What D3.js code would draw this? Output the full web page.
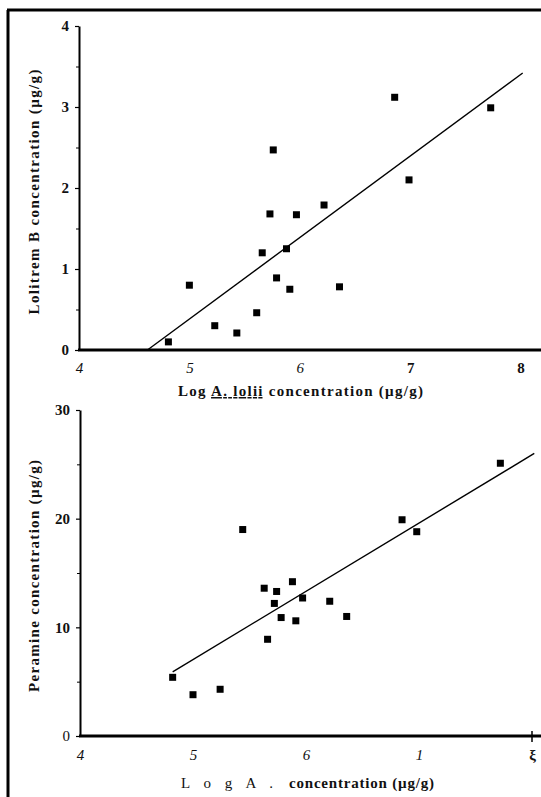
<!DOCTYPE html>
<html>
<head>
<meta charset="utf-8">
<script src="https://cdn.jsdelivr.net/npm/d3@7"></script>
<style>
  body { margin: 0; background: #fff; }
  svg { display: block; }
  text { font-family: "Liberation Serif", "Times New Roman", serif; fill: #111; }
</style>
</head>
<body>
<svg width="541" height="797"></svg>
<script>
var width = 541,
    height = 797;

// log A. lolii concentration, same 17 samples in both panels
var lolitremX = [4.81, 5.00, 5.23, 5.43, 5.61, 5.66, 5.73, 5.76, 5.79, 5.88, 5.91, 5.97, 6.22, 6.36, 6.86, 6.99, 7.73];
var lolitremY = [0.10, 0.80, 0.30, 0.21, 0.46, 1.20, 1.68, 2.47, 0.89, 1.25, 0.75, 1.67, 1.79, 0.78, 3.12, 2.10, 2.99];

var peramineX = [4.82, 5.00, 5.24, 5.44, 5.63, 5.66, 5.72, 5.74, 5.78, 5.88, 5.91, 5.97, 6.21, 6.36, 6.85, 6.98, 7.72];
var peramineY = [5.4, 3.8, 4.3, 19.0, 13.6, 8.9, 12.2, 13.3, 10.9, 14.2, 10.6, 12.7, 12.4, 11.0, 19.9, 18.8, 25.1];

// fitted regression lines (end points)
var lolitremFitX = [4.62, 8.02];
var lolitremFitY = [0, 3.42];
var peramineFitX = [4.82, 8.02];
var peramineFitY = [5.9, 26.0];

var xTicks = [4, 5, 6, 7, 8];
var lolitremTicks = [0, 1, 2, 3, 4];
var lolitremMinor = [0.5, 1.5, 2.5, 3.5];
var peramineTicks = [0, 10, 20, 30];
var peramineMinor = [5, 15, 25];

var svg = d3.select("svg");

// scanned page frame
svg.append("line").attr("x1", 8).attr("y1", 10).attr("x2", 8).attr("y2", height)
    .attr("stroke", "#000").attr("stroke-width", 3);
svg.append("line").attr("x1", 7).attr("y1", 10).attr("x2", width).attr("y2", 10)
    .attr("stroke", "#000").attr("stroke-width", 3);

function drawPanel(opts) {
    var x = d3.scaleLinear().domain([4, 8]).range(opts.xRange);
    var y = d3.scaleLinear().domain(opts.yDomain).range(opts.yRange);
    var g = svg.append("g");

    // y axis
    var yAxis = d3.axisLeft(y).tickValues(opts.yTicks).tickFormat(d3.format("d"))
        .tickSize(4).tickSizeOuter(0).tickPadding(6);
    var ya = g.append("g").attr("transform", "translate(" + x(4) + ",0)").call(yAxis);
    ya.select(".domain").attr("stroke", "#000").attr("stroke-width", 2);
    ya.selectAll(".tick line").attr("stroke", "#000").attr("stroke-width", 1.2);
    ya.selectAll(".tick text")
        .style("font-family", "Liberation Serif, serif")
        .style("font-size", "15px")
        .style("font-weight", function (d) { return d === 0 && opts.faintZero ? "normal" : "bold"; })
        .attr("fill", function (d) { return d === 0 && opts.faintZero ? "#555" : "#111"; });

    var minor = d3.axisLeft(y).tickValues(opts.yMinor).tickSize(3).tickFormat("");
    var ym = g.append("g").attr("transform", "translate(" + x(4) + ",0)").call(minor);
    ym.select(".domain").remove();
    ym.selectAll(".tick line").attr("stroke", "#000");

    // x axis: thick base line running to the page edge
    g.append("line")
        .attr("x1", x(4) - 1).attr("x2", width)
        .attr("y1", y(0)).attr("y2", y(0))
        .attr("stroke", "#000").attr("stroke-width", 3);

    var xAxis = d3.axisBottom(x).tickValues(xTicks).tickSize(0).tickPadding(opts.xPad);
    var xa = g.append("g").attr("transform", "translate(0," + y(0) + ")").call(xAxis);
    xa.select(".domain").remove();
    xa.selectAll(".tick text")
        .style("font-family", "Liberation Serif, serif")
        .style("font-size", "15px")
        .style("font-weight", function (d) { return opts.boldX.indexOf(d) >= 0 ? "bold" : "normal"; })
        .style("font-style", function (d) { return opts.boldX.indexOf(d) >= 0 ? "normal" : "italic"; })
        .attr("fill", function (d) { return opts.boldX.indexOf(d) >= 0 ? "#111" : "#555"; })
        .text(function (d) { return opts.xLabels ? opts.xLabels[xTicks.indexOf(d)] : d; });
    if (opts.endTick) {
        g.append("line")
            .attr("x1", x(8)).attr("x2", x(8))
            .attr("y1", y(0) - 5).attr("y2", y(0) + 6)
            .attr("stroke", "#000").attr("stroke-width", 1.5);
    }

    // regression line
    var fit = d3.line().x(function (d) { return x(d[0]); }).y(function (d) { return y(d[1]); });
    g.append("path")
        .datum(d3.zip(opts.fitX, opts.fitY))
        .attr("d", fit)
        .attr("fill", "none")
        .attr("stroke", "#000")
        .attr("stroke-width", 1.4);

    // points
    g.selectAll("rect.pt")
        .data(d3.zip(opts.xs, opts.ys))
        .join("rect")
        .attr("class", "pt")
        .attr("x", function (d) { return x(d[0]) - 3.5; })
        .attr("y", function (d) { return y(d[1]) - 3.5; })
        .attr("width", 7)
        .attr("height", 7)
        .attr("fill", "#000");

    // y title
    g.append("text")
        .attr("transform", "translate(39," + opts.yTitleMid + ") rotate(-90)")
        .attr("text-anchor", "middle")
        .attr("textLength", opts.yTitleLen)
        .attr("lengthAdjust", "spacing")
        .style("font-size", "15px")
        .style("font-weight", "bold")
        .text(opts.yTitle);

    return { x: x, y: y, g: g };
}

var topPanel = drawPanel({
    xRange: [79, 520.5], yDomain: [0, 4], yRange: [350, 26],
    yTicks: lolitremTicks, yMinor: lolitremMinor,
    xs: lolitremX, ys: lolitremY, fitX: lolitremFitX, fitY: lolitremFitY,
    boldX: [7, 8], xPad: 12, faintZero: false,
    yTitle: "Lolitrem  B  concentration  (µg/g)", yTitleMid: 192, yTitleLen: 245
});

var t1 = topPanel.g.append("text")
    .attr("x", 178).attr("y", 396)
    .attr("textLength", 245)
    .attr("lengthAdjust", "spacing")
    .style("font-size", "15px")
    .style("font-weight", "bold");
t1.append("tspan").text("Log ");
t1.append("tspan").style("text-decoration", "underline").text("A. lolii");
t1.append("tspan").text(" concentration (µg/g)");

var bottomPanel = drawPanel({
    xRange: [80, 532], yDomain: [0, 30], yRange: [736, 410],
    yTicks: peramineTicks, yMinor: peramineMinor,
    xs: peramineX, ys: peramineY, fitX: peramineFitX, fitY: peramineFitY,
    boldX: [8], xPad: 13, faintZero: true, endTick: true,
    xLabels: ["4", "5", "6", "1", "ξ"],
    yTitle: "Peramine  concentration  (µg/g)", yTitleMid: 576, yTitleLen: 232
});

bottomPanel.g.append("text")
    .attr("x", 181).attr("y", 788)
    .attr("textLength", 92)
    .attr("lengthAdjust", "spacing")
    .style("font-size", "15px")
    .text("L o g   A .");
bottomPanel.g.append("text")
    .attr("x", 289).attr("y", 788)
    .attr("textLength", 145)
    .attr("lengthAdjust", "spacing")
    .style("font-size", "15px")
    .style("font-weight", "bold")
    .text("concentration (µg/g)");
</script>
</body>
</html>
